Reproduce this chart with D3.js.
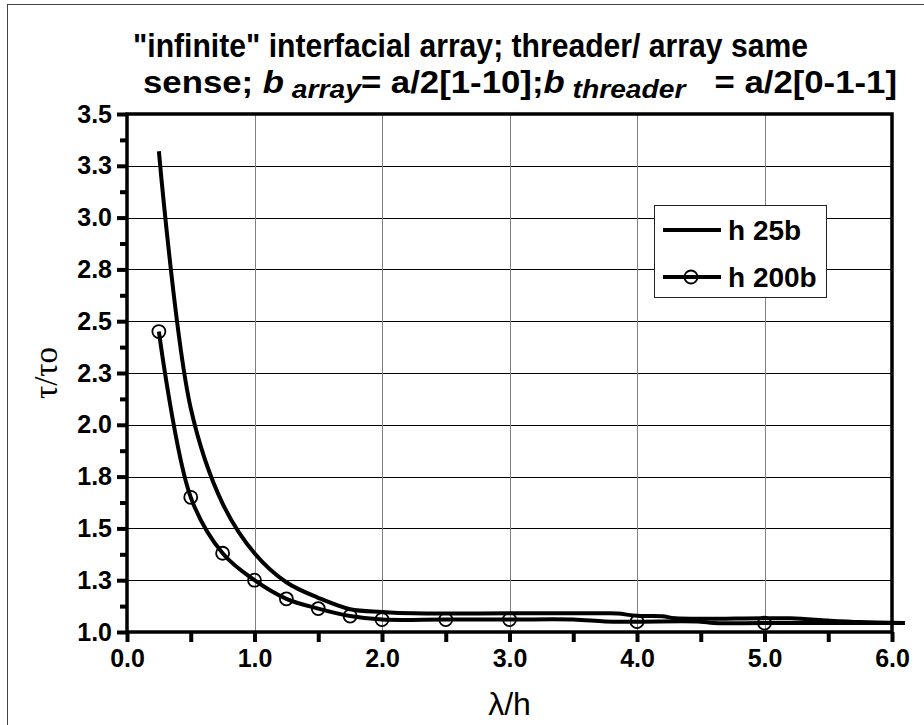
<!DOCTYPE html>
<html>
<head>
<meta charset="utf-8">
<script src="https://cdn.jsdelivr.net/npm/d3@7"></script>
<style>
  body { margin: 0; background: #fff; }
  svg { display: block; }
</style>
</head>
<body>
<script>
// values
var h25bX = [0.25, 0.5, 0.75, 1.0, 1.25, 1.5, 1.75, 2.0, 2.25, 3.0, 3.5, 3.75, 3.85, 4.0, 4.2, 4.3, 5.2, 5.5, 5.75, 6.1];
var h25bY = [3.32, 2.08, 1.62, 1.38, 1.24, 1.165, 1.11, 1.097, 1.09, 1.09, 1.09, 1.09, 1.089, 1.078, 1.076, 1.066, 1.066, 1.055, 1.048, 1.044];

var h200bX = [0.25, 0.5, 0.75, 1.0, 1.25, 1.5, 1.75, 2.0, 2.5, 3.0, 3.5, 3.75, 4.0, 4.5, 4.6, 5.0, 6.1];
var h200bY = [2.45, 1.65, 1.38, 1.25, 1.16, 1.113, 1.077, 1.06, 1.06, 1.06, 1.06, 1.051, 1.05, 1.05, 1.043, 1.043, 1.043];
// points of h 200b that carry a circle marker
var h200bMarkX = [0.25, 0.5, 0.75, 1.0, 1.25, 1.5, 1.75, 2.0, 2.5, 3.0, 4.0, 5.0];

var seriesNames = ["h 25b", "h 200b"];

var xTicks = [0, 0.5, 1, 1.5, 2, 2.5, 3, 3.5, 4, 4.5, 5, 5.5, 6];
var xTickLabels = ["0.0", "", "1.0", "", "2.0", "", "3.0", "", "4.0", "", "5.0", "", "6.0"];
var xGrid = [1, 2, 3, 4, 5];
var yTicks = [1.0, 1.25, 1.5, 1.75, 2.0, 2.25, 2.5, 2.75, 3.0, 3.25, 3.5];
var yTickLabels = ["1.0", "1.3", "1.5", "1.8", "2.0", "2.3", "2.5", "2.8", "3.0", "3.3", "3.5"];
var yMinor = [1.125, 1.375, 1.625, 1.875, 2.125, 2.375, 2.625, 2.875, 3.125, 3.375];

// title: second line pieces are [text, italic subscript?, italic?]
var titleLine1 = "\"infinite\" interfacial array; threader/ array same";
var titleLine2 = [
  ["sense; ", false, false],
  ["b", false, true],
  ["\u00a0array", true, true],
  ["= a/2[1-10];", false, false],
  ["b", false, true],
  ["\u00a0threader", true, true],
  ["\u00a0\u00a0\u00a0= a/2[0-1-1]", false, false]
];

var width = 924, height = 725;
var margin = {left: 127, right: 32, top: 114, bottom: 93};
var w = width - margin.left - margin.right;
var h = height - margin.top - margin.bottom;

var sans = "'Liberation Sans', Arial, sans-serif";

var svg = d3.select("body").append("svg")
    .attr("width", width).attr("height", height);

// outer chart frame
svg.append("rect")
    .attr("x", 7.5).attr("y", 4.5)
    .attr("width", width + 20).attr("height", height + 20)
    .attr("fill", "none").attr("stroke", "#444").attr("stroke-width", 1);

var x = d3.scaleLinear().domain([0, 6]).range([0, w]);
var y = d3.scaleLinear().domain([1, 3.5]).range([h, 0]);

var g = svg.append("g")
    .attr("transform", "translate(" + margin.left + "," + margin.top + ")");

// gridlines
g.selectAll(".hgrid").data(yTicks.slice(1, -1)).enter().append("line")
    .attr("x1", 0).attr("x2", w)
    .attr("y1", function(d){ return Math.round(y(d)) + 0.5; })
    .attr("y2", function(d){ return Math.round(y(d)) + 0.5; })
    .attr("stroke", "#000").attr("stroke-width", 1);
g.selectAll(".vgrid").data(xGrid).enter().append("line")
    .attr("y1", 0).attr("y2", h)
    .attr("x1", function(d){ return Math.round(x(d)) + 0.5; })
    .attr("x2", function(d){ return Math.round(x(d)) + 0.5; })
    .attr("stroke", "#808080").attr("stroke-width", 1);

// axes
var yAxis = d3.axisLeft(y).tickValues(yTicks)
    .tickFormat(function(d, i){ return yTickLabels[i]; })
    .tickSize(10).tickPadding(5);
var yAxisMinor = d3.axisLeft(y).tickValues(yMinor).tickFormat("").tickSize(7);
var xAxis = d3.axisBottom(x).tickValues(xTicks)
    .tickFormat(function(d, i){ return xTickLabels[i]; })
    .tickSize(10).tickPadding(7);

var ya = g.append("g").call(yAxis);
var ym = g.append("g").call(yAxisMinor);
var xa = g.append("g").attr("transform", "translate(0," + h + ")").call(xAxis);

[ya, ym, xa].forEach(function(a){
  a.select(".domain").remove();
  a.selectAll(".tick line")
      .style("stroke", "#000").style("stroke-width", "4px");
  a.selectAll(".tick text")
      .style("fill", "#000")
      .style("font-family", sans)
      .style("font-weight", "bold")
      .style("font-size", "25px");
});

// plot border
g.append("rect")
    .attr("x", 0).attr("y", 0).attr("width", w).attr("height", h)
    .attr("fill", "none").attr("stroke", "#000").attr("stroke-width", 3.5);

// series
var line = d3.line()
    .x(function(d){ return x(d[0]); })
    .y(function(d){ return y(d[1]); })
    .curve(d3.curveCatmullRom.alpha(0.5));

var s25 = h25bX.map(function(v, i){ return [v, h25bY[i]]; });
var s200 = h200bX.map(function(v, i){ return [v, h200bY[i]]; });
var marks = h200bMarkX.map(function(v){ return [v, h200bY[h200bX.indexOf(v)]]; });

[s25, s200].forEach(function(s){
  g.append("path").attr("d", line(s))
      .attr("fill", "none").attr("stroke", "#000").attr("stroke-width", 4)
      .attr("stroke-linejoin", "round");
});
g.selectAll(".mark").data(marks).enter().append("circle")
    .attr("cx", function(d){ return x(d[0]); })
    .attr("cy", function(d){ return y(d[1]); })
    .attr("r", 6.5)
    .attr("fill", "none").attr("stroke", "#000").attr("stroke-width", 1.8);

// legend
var lg = svg.append("g").attr("transform", "translate(654,205)");
lg.append("rect").attr("x", 0.5).attr("y", 0.5).attr("width", 172).attr("height", 92)
    .attr("fill", "#fff").attr("stroke", "#222").attr("stroke-width", 1);
seriesNames.forEach(function(name, i){
  var ly = 25 + i * 47;
  lg.append("line").attr("x1", 9).attr("x2", 67).attr("y1", ly).attr("y2", ly)
      .attr("stroke", "#000").attr("stroke-width", 4);
  if (i === 1) {
    lg.append("circle").attr("cx", 37).attr("cy", ly).attr("r", 6.5)
        .attr("fill", "none").attr("stroke", "#000").attr("stroke-width", 1.8);
  }
  lg.append("text").attr("x", 74).attr("y", ly + 10)
      .style("font-family", sans)
      .style("font-weight", "bold").style("font-size", "28px")
      .text(name);
});

// title (condensed, like a narrow bold face)
svg.append("text").attr("x", 133).attr("y", 57)
    .attr("textLength", 675).attr("lengthAdjust", "spacingAndGlyphs")
    .style("font-family", sans).style("font-weight", "bold").style("font-size", "33px")
    .text(titleLine1);
var t2 = svg.append("text").attr("x", 143).attr("y", 93)
    .attr("textLength", 754).attr("lengthAdjust", "spacingAndGlyphs")
    .style("font-family", sans).style("font-weight", "bold").style("font-size", "32px");
var down = false;
titleLine2.forEach(function(p){
  var ts = t2.append("tspan").text(p[0])
      .style("font-style", p[2] ? "italic" : "normal");
  if (p[1]) { ts.style("font-size", "26px").attr("dy", 5); down = true; }
  else if (down) { ts.attr("dy", -5); down = false; }
});

// axis titles
svg.append("text")
    .attr("transform", "translate(57,373) rotate(-90)")
    .attr("text-anchor", "middle")
    .style("fill", "#000")
    .style("font-family", "'Liberation Serif', 'Times New Roman', serif")
    .style("font-size", "33px")
    .text("\u03c4/\u03c4o");
svg.append("text")
    .attr("x", margin.left + x(3)).attr("y", 715)
    .attr("text-anchor", "middle")
    .style("fill", "#000")
    .style("font-family", sans)
    .style("font-size", "32px")
    .text("\u03bb/h");
</script>
</body>
</html>
